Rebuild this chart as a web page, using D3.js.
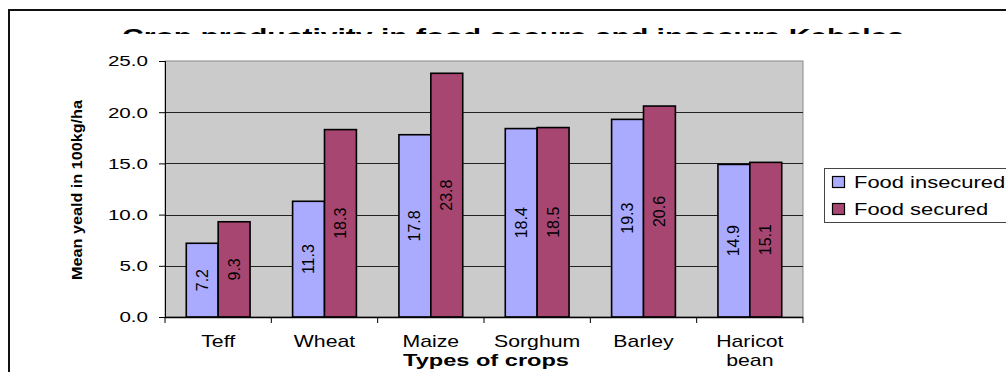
<!DOCTYPE html>
<html>
<head>
<meta charset="utf-8">
<script src="https://cdn.jsdelivr.net/npm/d3@7"></script>
<style>
  html, body { margin: 0; padding: 0; background: #fff; }
  svg { display: block; font-family: Arial, "Liberation Sans", sans-serif; }
</style>
</head>
<body>
<div id="chart"></div>
<script>
// Data
const crops = ["Teff", "Wheat", "Maize", "Sorghum", "Barley", "Haricot bean"];
const seriesNames = ["Food insecured", "Food secured"];
const insecured = [7.2, 11.3, 17.8, 18.4, 19.3, 14.9];
const secured = [9.3, 18.3, 23.8, 18.5, 20.6, 15.1];
const yTicks = [0, 5, 10, 15, 20, 25];
const colors = ["#aaaaff", "#a84672"];

const width = 1006, height = 372;
const plot = { left: 165, right: 803, top: 61, bottom: 317 };
const stretch = 1.33; // text in the original is drawn wide

const svg = d3.select("#chart").append("svg")
  .attr("width", width)
  .attr("height", height);

// outer chart frame (only top and left edges are in view)
svg.append("path")
  .attr("d", `M9,${height + 2} V10 H${width + 2}`)
  .attr("fill", "none")
  .attr("stroke", "#111")
  .attr("stroke-width", 2);

// title, cut off at the bottom like in the original
svg.append("defs").append("clipPath")
  .attr("id", "title-clip")
  .append("rect")
  .attr("x", 0).attr("y", 0).attr("width", width).attr("height", 34);

svg.append("text")
  .attr("clip-path", "url(#title-clip)")
  .attr("x", 122)
  .attr("y", 44)
  .attr("textLength", 782)
  .attr("lengthAdjust", "spacingAndGlyphs")
  .style("font-size", "22px")
  .style("font-weight", "bold")
  .text("Crop productivity  in food secure and insecure Kebeles");

// scales
const x = d3.scaleBand()
  .domain(crops)
  .range([plot.left, plot.right])
  .paddingInner(0.4)
  .paddingOuter(0.2);

const xs = d3.scaleBand()
  .domain(seriesNames)
  .range([0, x.bandwidth()]);

const y = d3.scaleLinear()
  .domain([0, 25])
  .range([plot.bottom, plot.top]);

// plot background
svg.append("rect")
  .attr("x", plot.left)
  .attr("y", plot.top)
  .attr("width", plot.right - plot.left)
  .attr("height", plot.bottom - plot.top)
  .attr("fill", "#cbcbcb")
  .attr("stroke", "#8a8a8a")
  .attr("stroke-width", 1);

// gridlines
svg.append("g")
  .selectAll("line")
  .data(yTicks.filter(d => d > 0 && d < 25))
  .join("line")
  .attr("x1", plot.left)
  .attr("x2", plot.right)
  .attr("y1", d => Math.round(y(d)) + 0.5)
  .attr("y2", d => Math.round(y(d)) + 0.5)
  .attr("stroke", "#222")
  .attr("stroke-width", 1);

// bars
const rows = crops.map((c, i) => ({ crop: c, values: [insecured[i], secured[i]] }));

const groups = svg.append("g")
  .selectAll("g")
  .data(rows)
  .join("g")
  .attr("transform", d => `translate(${x(d.crop)},0)`);

groups.selectAll("rect")
  .data(d => d.values.map((v, j) => ({ name: seriesNames[j], value: v, j })))
  .join("rect")
  .attr("x", d => xs(d.name))
  .attr("y", d => y(d.value))
  .attr("width", xs.bandwidth())
  .attr("height", d => y(0) - y(d.value))
  .attr("fill", d => colors[d.j])
  .attr("stroke", "#000")
  .attr("stroke-width", 1.6);

// value labels, rotated inside bars
groups.selectAll("text")
  .data(d => d.values.map((v, j) => ({ name: seriesNames[j], value: v, j })))
  .join("text")
  .attr("transform", d => {
    const cx = xs(d.name) + xs.bandwidth() / 2;
    const cy = (y(d.value) + y(0)) / 2;
    return `translate(${cx},${cy}) rotate(-90)`;
  })
  .attr("text-anchor", "middle")
  .attr("dominant-baseline", "central")
  .style("font-size", "16px")
  .attr("fill", "#000")
  .text(d => d3.format(".1f")(d.value));

// y axis
const yAxis = svg.append("g")
  .attr("transform", `translate(${plot.left},0)`)
  .call(d3.axisLeft(y).tickValues(yTicks).tickFormat(d3.format(".1f")).tickSize(6));
yAxis.select(".domain").attr("stroke", "#000");
yAxis.selectAll(".tick line").attr("stroke", "#000");
yAxis.selectAll("text")
  .attr("x", -17 / stretch)
  .attr("transform", `scale(${stretch},1)`)
  .style("font-size", "15.5px")
  .style("font-family", "Arial, 'Liberation Sans', sans-serif")
  .attr("fill", "#000");

// x axis line and ticks between categories
svg.append("line")
  .attr("x1", plot.left).attr("x2", plot.right)
  .attr("y1", plot.bottom + 0.5).attr("y2", plot.bottom + 0.5)
  .attr("stroke", "#000")
  .attr("stroke-width", 1.5);

const step = x.step();
svg.append("g")
  .selectAll("line")
  .data(d3.range(crops.length + 1))
  .join("line")
  .attr("x1", i => plot.left + i * step)
  .attr("x2", i => plot.left + i * step)
  .attr("y1", plot.bottom)
  .attr("y2", plot.bottom + 6)
  .attr("stroke", "#000");

// category labels (wrapped)
svg.append("g")
  .selectAll("text")
  .data(crops)
  .join("text")
  .attr("transform", d => `translate(${x(d) + x.bandwidth() / 2},0) scale(${stretch},1)`)
  .attr("text-anchor", "middle")
  .style("font-size", "16px")
  .attr("fill", "#000")
  .each(function (d) {
    const words = d.split(" ");
    const t = d3.select(this);
    words.forEach((w, i) => {
      t.append("tspan")
        .attr("x", 0)
        .attr("y", 347 + i * 19)
        .text(w);
    });
  });

// axis titles
svg.append("text")
  .attr("x", 486)
  .attr("y", 366)
  .attr("text-anchor", "middle")
  .attr("textLength", 166)
  .attr("lengthAdjust", "spacingAndGlyphs")
  .style("font-size", "16px")
  .style("font-weight", "bold")
  .text("Types of crops");

svg.append("text")
  .attr("transform", "translate(77,190) rotate(-90)")
  .attr("text-anchor", "middle")
  .attr("dominant-baseline", "central")
  .attr("textLength", 180)
  .attr("lengthAdjust", "spacingAndGlyphs")
  .style("font-size", "14px")
  .style("font-weight", "bold")
  .text("Mean yeald in 100kg/ha");

// legend
const legend = svg.append("g").attr("transform", "translate(824,168)");
legend.append("rect")
  .attr("x", 0.5).attr("y", 0.5)
  .attr("width", 200).attr("height", 54)
  .attr("fill", "#fff")
  .attr("stroke", "#444");

const items = legend.selectAll("g")
  .data(seriesNames)
  .join("g")
  .attr("transform", (d, i) => `translate(0,${14 + i * 27})`);

items.append("rect")
  .attr("x", 8.5).attr("y", -5.5)
  .attr("width", 12).attr("height", 11)
  .attr("fill", (d, i) => colors[i])
  .attr("stroke", "#000")
  .attr("stroke-width", 1.2);

items.append("text")
  .attr("transform", `translate(30,0) scale(${stretch},1)`)
  .attr("dominant-baseline", "central")
  .style("font-size", "16.5px")
  .text(d => d);
</script>
</body>
</html>
